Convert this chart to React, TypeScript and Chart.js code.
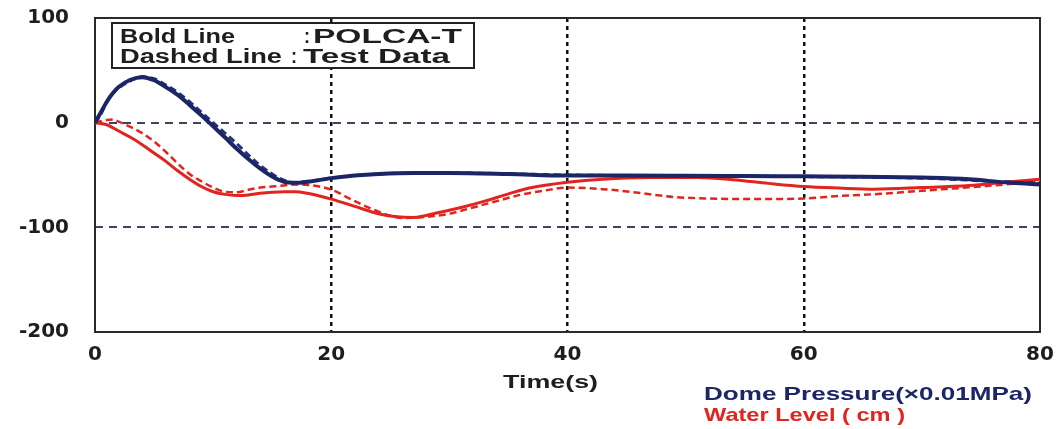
import { useEffect, useRef } from "react";
import { Chart, registerables } from "chart.js";

Chart.register(...registerables);

// ---- Data ----
const xTicks = [0, 20, 40, 60, 80];
const yTicks = [-200, -100, 0, 100];

const pressureSimT = [0, 0.5, 1, 1.5, 2, 3, 4, 5, 6, 7, 8, 9, 10, 11, 12, 13, 14, 15, 16, 17, 18, 20, 22, 24, 27, 30, 35, 40, 45, 50, 55, 60, 65, 70, 74, 77, 80];
const pressureSimV = [0, 10, 20, 28, 34, 41, 43.5, 40.5, 34, 26.5, 17, 7, -3.5, -14, -25, -35, -44, -51.5, -56.5, -57.5, -56.5, -53, -50.5, -49, -48, -48, -49, -50.5, -50.5, -50.7, -51, -51.3, -51.6, -52.5, -54, -57, -59];

const pressureTestT = [0, 0.5, 1, 1.5, 2, 3, 4, 5, 6, 7, 8, 9, 10, 11, 12, 13, 14, 15, 16, 17, 18, 20, 24, 30, 40, 50, 60, 70, 75, 80];
const pressureTestV = [0, 8, 20, 28, 33, 40, 44, 42, 36, 29, 20, 10, 0, -10, -20, -31, -41, -49, -55, -57.5, -56, -53, -49, -48, -50, -51, -51.5, -53, -55.5, -58];

const levelSimT = [0, 1, 2, 3, 4, 5, 6, 7, 8, 9, 10, 11, 12, 13, 14, 15, 16, 17, 18, 19, 20, 22, 24, 25.6, 27, 29, 31, 33, 35, 37, 40, 43, 47, 51, 54, 57, 60, 63, 66, 70, 74, 77, 80];
const levelSimV = [0, -2, -8, -14, -21, -29, -37, -46, -54, -61, -66, -68.5, -69.5, -69, -67.5, -66.5, -66, -66, -67.5, -70, -73, -80, -87, -90, -90.5, -86, -81, -75, -68, -62, -57, -54, -52.5, -52.5, -54.5, -58, -61, -62.5, -63.5, -62, -60, -57, -54];

const levelTestT = [0, 1, 1.5, 2, 3, 4, 5, 6, 7, 8, 9, 10, 11, 12, 13, 14, 15, 16, 17, 18, 19, 20, 22, 24, 26, 28, 30, 32, 34, 36, 38, 40, 43, 46, 49, 52, 55, 60, 63, 66.5, 70, 75, 80];
const levelTestV = [0, 2.5, 3, 1, -4, -10, -18, -28, -39, -49, -56, -62, -66, -66.5, -64, -62, -61, -60, -59, -59.5, -61, -64, -75, -85, -91, -90, -87, -81, -75, -69, -65, -62, -63.5, -67, -71, -72.5, -73, -72.5, -70, -68, -65, -61, -56];

const legendRow1Label = "Bold Line";
const legendRow1Value = "POLCA-T";
const legendRow2Label = "Dashed Line";
const legendRow2Value = "Test Data";
const xAxisTitle = "Time(s)";
const pressureLabel = "Dome Pressure(\u00d70.01MPa)";
const levelLabel = "Water Level ( cm )";

// ---- Styles ----
const NAVY = "#1c2566";
const RED = "#e2241f";
const INK = "#1e1e1e";
const TICK_FONT = { family: "'DejaVu Sans', sans-serif", size: 20, weight: "bold" as const };

const pts = (t: number[], v: number[]) => t.map((x, i) => ({ x, y: v[i] }));

function fitText(
  ctx: CanvasRenderingContext2D,
  text: string,
  left: number,
  baseline: number,
  width: number,
  size: number,
  color: string
) {
  ctx.save();
  ctx.font = `bold ${size}px 'Liberation Sans', Arial, sans-serif`;
  const w = ctx.measureText(text).width;
  ctx.translate(left, baseline);
  ctx.scale(width / w, 1);
  ctx.fillStyle = color;
  ctx.textAlign = "left";
  ctx.textBaseline = "alphabetic";
  ctx.fillText(text, 0, 0);
  ctx.restore();
}

const framePlugin = {
  id: "frame",
  beforeDatasetsDraw(chart: any) {
    const { ctx, chartArea: a } = chart;
    ctx.save();
    ctx.strokeStyle = "#2a2a2a";
    ctx.lineWidth = 2;
    ctx.strokeRect(a.left, a.top, a.right - a.left, a.bottom - a.top);
    ctx.restore();
  },
  afterDraw(chart: any) {
    const ctx: CanvasRenderingContext2D = chart.ctx;
    // legend box
    ctx.save();
    ctx.strokeStyle = "#222";
    ctx.lineWidth = 2;
    ctx.fillStyle = "#ffffff";
    ctx.fillRect(112, 23, 362, 45);
    ctx.strokeRect(112, 23, 362, 45);
    ctx.restore();
    fitText(ctx, legendRow1Label, 120, 43, 115, 20, INK);
    fitText(ctx, ":", 304, 43, 6, 20, INK);
    fitText(ctx, legendRow1Value, 313, 43, 149, 20, INK);
    fitText(ctx, legendRow2Label, 120, 63, 162, 20, INK);
    fitText(ctx, ":", 291, 63, 6, 20, INK);
    fitText(ctx, legendRow2Value, 303, 63, 147, 20, INK);
    // axis title & series legend
    fitText(ctx, xAxisTitle, 503, 388, 95, 19, INK);
    fitText(ctx, pressureLabel, 704, 400, 328, 19, NAVY);
    fitText(ctx, levelLabel, 704, 421, 201, 19, RED);
  },
};

export default function App() {
  const ref = useRef<HTMLCanvasElement | null>(null);

  useEffect(() => {
    if (!ref.current) return;
    const chart = new Chart(ref.current, {
      type: "line",
      data: {
        datasets: [
          {
            label: "Dome Pressure POLCA-T",
            data: pts(pressureSimT, pressureSimV),
            borderColor: NAVY,
            borderWidth: 4,
            pointRadius: 0,
            cubicInterpolationMode: "monotone",
          },
          {
            label: "Dome Pressure Test",
            data: pts(pressureTestT, pressureTestV),
            borderColor: "#27307a",
            borderWidth: 3,
            borderDash: [7, 4],
            pointRadius: 0,
            cubicInterpolationMode: "monotone",
          },
          {
            label: "Water Level POLCA-T",
            data: pts(levelSimT, levelSimV),
            borderColor: RED,
            borderWidth: 3,
            pointRadius: 0,
            cubicInterpolationMode: "monotone",
          },
          {
            label: "Water Level Test",
            data: pts(levelTestT, levelTestV),
            borderColor: RED,
            borderWidth: 2.5,
            borderDash: [7, 4],
            pointRadius: 0,
            cubicInterpolationMode: "monotone",
          },
        ],
      },
      options: {
        animation: false,
        responsive: false,
        maintainAspectRatio: false,
        layout: { padding: { top: 18, right: 20, left: 0, bottom: 0 } },
        plugins: { legend: { display: false }, tooltip: { enabled: false } },
        scales: {
          x: {
            type: "linear",
            min: xTicks[0],
            max: xTicks[xTicks.length - 1],
            afterBuildTicks: (s: any) => {
              s.ticks = xTicks.map((v) => ({ value: v }));
            },
            afterFit: (s: any) => {
              s.height = 97;
            },
            ticks: { font: TICK_FONT, color: INK, padding: 0, maxRotation: 0 },
            grid: {
              drawTicks: true,
              tickLength: 11,
              tickColor: "rgba(0,0,0,0)",
              lineWidth: 2.5,
              color: (c: any) =>
                c.tick && c.tick.value > xTicks[0] && c.tick.value < xTicks[xTicks.length - 1]
                  ? "#111111"
                  : "rgba(0,0,0,0)",
            },
            border: { display: false, dash: [4, 4] },
          },
          y: {
            type: "linear",
            min: yTicks[0],
            max: yTicks[yTicks.length - 1],
            afterBuildTicks: (s: any) => {
              s.ticks = yTicks.map((v) => ({ value: v }));
            },
            afterFit: (s: any) => {
              s.width = 95;
            },
            ticks: { font: TICK_FONT, color: INK, padding: 0 },
            grid: {
              drawTicks: true,
              tickLength: 26,
              tickColor: "rgba(0,0,0,0)",
              lineWidth: 2,
              color: (c: any) =>
                c.tick && c.tick.value > yTicks[0] && c.tick.value < yTicks[yTicks.length - 1]
                  ? "#3d4260"
                  : "rgba(0,0,0,0)",
            },
            border: { display: false, dash: [8, 6] },
          },
        },
      },
      plugins: [framePlugin],
    } as any);
    return () => chart.destroy();
  }, []);

  return (
    <div style={{ position: "absolute", left: 0, top: 0, width: 1060, height: 429, background: "#fff" }}>
      <canvas ref={ref} width={1060} height={429} style={{ display: "block" }} />
    </div>
  );
}
